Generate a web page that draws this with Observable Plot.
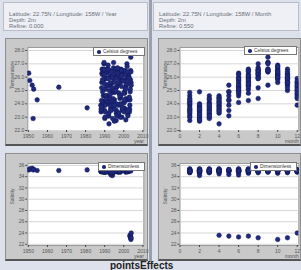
<!DOCTYPE html>
<html><head><meta charset="utf-8">
<script src="https://cdn.jsdelivr.net/npm/d3@7"></script>
<script src="https://cdn.jsdelivr.net/npm/@observablehq/plot@0.6"></script>
<style>
html,body{margin:0;padding:0;}
body{width:301px;height:270px;overflow:hidden;background:#dde1ec;position:relative;font-family:"Liberation Sans",Arial,sans-serif;}
.hdr{position:absolute;top:2px;height:29px;background:#eef0f5;border:1px solid #b9bdc9;color:#6a6e78;font-size:5.8px;line-height:6px;padding:8px 0 0 5px;box-sizing:border-box;white-space:nowrap;overflow:hidden;}
.panel{position:absolute;background:#c9c9c9;border:1px solid #8e8e8e;border-bottom:2px solid #555;}
.panel svg{display:block;overflow:visible;}
.legend{position:absolute;background:#fff;border:1px solid #777;font-size:4.8px;color:#333;height:9px;line-height:8px;box-sizing:border-box;padding-left:9px;white-space:nowrap;}
.legend::before{content:"";position:absolute;left:3px;top:2.2px;width:3.6px;height:3.6px;border-radius:50%;background:#1f2a7c;}
.divider{position:absolute;left:149px;top:0;width:2.5px;height:262px;background:#9aa0ae;}
.foot{position:absolute;left:110px;top:260.5px;font-size:10px;line-height:10px;font-weight:bold;color:#222;}
</style></head>
<body>
<div class="hdr" style="left:3px;width:145px;">Latitude: 22.75N / Longitude: 158W / Year<br>Depth: 2m<br>Refine: 0.000</div>
<div class="hdr" style="left:153px;width:146px;">Latitude: 22.75N / Longitude: 158W / Month<br>Depth: 2m<br>Refine: 0.550</div>
<div class="divider"></div>
<div class="panel" id="p1" style="left:5px;top:38px;"></div>
<div class="panel" id="p2" style="left:158px;top:38px;"></div>
<div class="panel" id="p3" style="left:5px;top:153px;"></div>
<div class="panel" id="p4" style="left:158px;top:153px;"></div>
<div class="legend" style="left:93px;top:47px;width:52px;">Celsius degrees</div>
<div class="legend" style="left:244px;top:46px;width:53px;">Celsius degrees</div>
<div class="legend" style="left:98px;top:162px;width:47px;">Dimensionless</div>
<div class="legend" style="left:250px;top:162px;width:47px;">Dimensionless</div>
<div class="foot">pointsEffects</div>
<script>
const cruiseYears = [1988,1989,1990,1991,1992,1993,1994,1995,1996,1997,1998,1999,2000,2001,2002,2003];
const tempJan = [23.9,24.2,23.5,24.6,23.1,24.0,23.7,24.85,22.75,23.3,24.4,23.0,24.1,23.6,24.3,23.4];
const tempFeb = [23.4,23.8,22.9,24.0,23.1,23.6,24.9,22.7,23.3,23.9,23.0,23.5,23.7,22.8,23.2,23.6];
const tempMar = [23.6,24.1,23.0,24.6,23.3,23.8,22.9,24.3,23.5,23.2,24.0,23.7,23.4,24.4,23.1,23.9];
const tempApr = [23.8,24.6,23.4,24.2,22.5,23.9,24.4,23.6,24.0,23.3,24.5,23.7,24.1,null,23.5,24.3];
const tempMay = [24.25,null,23.9,null,25.4,23.5,null,24.9,23.1,null,24.6,null,24.3,null,null,24.9];
const tempJun = [25.2,25.8,24.6,26.3,25.0,25.5,24.1,26.0,25.3,24.8,25.7,26.2,24.9,25.4,25.9,25.1];
const tempJul = [25.6,26.2,25.1,26.6,25.4,24.25,25.9,26.4,25.3,26.0,25.7,26.5,24.8,25.5,26.1,25.8];
const tempAug = [26.3,27.0,25.9,26.5,24.4,26.1,26.7,25.2,26.4,26.0,26.6,26.2,null,25.9,26.3,26.5];
const tempSep = [26.6,27.1,26.4,25.4,26.5,null,27.1,26.6,null,26.4,null,null,26.5,27.0,null,27.5];
const tempOct = [26.2,26.6,25.9,26.9,26.0,26.4,25.6,26.3,26.7,26.1,26.5,25.8,26.2,26.8,26.0,26.4];
const tempNov = [25.8,26.2,25.4,26.6,25.6,26.0,25.0,25.9,26.3,25.5,26.1,25.7,25.2,26.4,25.9,25.6];
const tempDec = [24.9,25.5,24.4,25.9,24.7,25.2,23.9,25.0,25.6,24.6,25.3,24.8,25.1,25.7,24.5,25.4];

const salJan = [34.9,35.1,34.8,35.2,35.0,34.7,34.9,35.3,35.1,34.8,35.0,35.2,35.4,35.1,34.9,35.0];
const salFeb = [35.0,34.8,35.2,34.9,35.1,34.6,34.2,35.0,35.3,34.9,35.1,35.4,35.2,34.8,35.0,35.1];
const salMar = [34.9,35.2,34.8,35.0,35.1,34.7,34.9,35.2,35.0,35.3,34.8,35.1,35.4,35.0,34.9,35.2];
const salApr = [35.1,34.9,35.0,35.2,34.8,34.5,35.1,34.9,35.3,35.0,35.2,35.4,35.1,null,35.0,23.6];
const salMay = [35.0,null,35.1,null,34.9,34.4,null,35.0,35.2,null,35.1,null,35.3,null,null,23.45];
const salJun = [35.1,34.9,35.0,35.2,34.8,34.3,35.0,34.9,35.1,35.3,35.0,35.2,35.4,35.1,35.0,23.3];
const salJul = [35.0,35.2,34.9,35.1,34.8,34.6,35.0,35.2,35.1,34.9,35.2,35.3,35.4,35.0,35.1,23.45];
const salAug = [35.1,34.9,35.0,35.2,34.9,34.7,35.0,35.1,35.2,35.0,35.1,35.3,null,35.2,35.0,23.15];
const salSep = [35.0,35.1,34.9,35.2,35.0,null,34.8,35.1,null,35.0,null,null,35.3,35.1,null,35.0];
const salOct = [35.1,35.0,34.9,35.2,35.0,34.6,34.9,35.1,35.2,35.0,35.1,35.3,35.2,35.0,35.1,22.85];
const salNov = [35.0,35.1,34.9,35.0,35.2,34.7,35.0,35.1,35.0,35.2,35.1,35.3,35.1,35.0,35.2,23.15];
const salDec = [35.1,34.9,35.0,35.2,34.9,34.8,35.0,35.1,35.2,35.0,35.3,35.1,35.2,35.0,35.1,24.0];

const earlyYears = [1950.2,1950.75,1952.0,1952.8,1954.6,1952.5,1965.95,1980.8];
const earlyTemps = [26.3,25.75,25.4,25.1,24.3,22.9,25.25,23.7];
const earlySal = [35.2,35.4,35.5,35.3,35.1,35.2,35.1,35.2];

const yearTicks = [1950,1960,1970,1980,1990,2000,2010];
const monthTicks = [0,2,4,6,8,10,12];
const tempTicks = [22,23,24,25,26,27,28];
const salTicks = [22,24,26,28,30,32,34,36];

const tempByMonth = [tempJan,tempFeb,tempMar,tempApr,tempMay,tempJun,tempJul,tempAug,tempSep,tempOct,tempNov,tempDec];
const salByMonth = [salJan,salFeb,salMar,salApr,salMay,salJun,salJul,salAug,salSep,salOct,salNov,salDec];

const obs = [];
tempByMonth.forEach((arr, m) => arr.forEach((t, i) => {
  obs.push({year: cruiseYears[i] + m / 12, month: m + 1, temp: t, sal: salByMonth[m][i]});
}));
const early = earlyYears.map((y, i) => ({year: y, month: null, temp: earlyTemps[i], sal: earlySal[i]}));

function chart(o) {
  const data = o.data.filter(d => d[o.x] != null && d[o.y] != null);
  return Plot.plot({
    width: o.width, height: o.height,
    marginLeft: o.ml, marginRight: o.mr, marginTop: o.mt, marginBottom: o.mb,
    style: {background: "#c9c9c9", fontFamily: "Liberation Sans, Arial, sans-serif", fontSize: "5px", color: "#444", overflow: "visible"},
    x: {domain: o.xDomain},
    y: {domain: o.yDomain},
    marks: [
      Plot.frame({fill: "white", stroke: "#9a9a9a"}),
      Plot.gridY(o.yTicks, {stroke: "#d6d6d6", strokeOpacity: 1}),
      Plot.dot(data, {x: o.x, y: o.y, r: 2.3, fill: "#1f2a7c", stroke: "#10175a", strokeWidth: 0.5, clip: true}),
      Plot.axisY(o.yTicks, {tickFormat: o.yFmt, tickSize: 2, tickPadding: 1.5, label: null, fontSize: 5, fill: "#555"}),
      Plot.axisX(o.xTicks, {tickFormat: d => String(d), tickSize: 2, tickPadding: 1.5, label: null, fontSize: 5, fill: "#555"}),
      Plot.text([o.yLabel], {text: d => d, frameAnchor: "left", dx: o.ylOff, rotate: -90, fontSize: 5, fill: "#555"}),
      Plot.text([o.xLabel], {text: d => d, frameAnchor: "bottom-right", dy: o.xlOff, textAnchor: "end", fontSize: 5, fill: "#555"})
    ]
  });
}

const all = obs.concat(early);
document.getElementById("p1").appendChild(chart({
  data: all, x: "year", y: "temp", width: 141, height: 105, ml: 21.3, mr: 3.7, mt: 8, mb: 14,
  xDomain: [1949.7, 2010.5], yDomain: [22, 28.225], xTicks: yearTicks, yTicks: tempTicks,
  yFmt: d => d.toFixed(1), yLabel: "Temperature", xLabel: "year", ylOff: -15, xlOff: 12
}));
document.getElementById("p2").appendChild(chart({
  data: obs, x: "month", y: "temp", width: 141, height: 105, ml: 20.5, mr: 1.7, mt: 8, mb: 14,
  xDomain: [0, 12.16], yDomain: [22, 28.225], xTicks: monthTicks, yTicks: tempTicks,
  yFmt: d => d.toFixed(1), yLabel: "Temperature", xLabel: "month", ylOff: -15, xlOff: 12
}));
document.getElementById("p3").appendChild(chart({
  data: all, x: "year", y: "sal", width: 141, height: 105, ml: 21.3, mr: 3.7, mt: 9, mb: 14,
  xDomain: [1949.7, 2010.5], yDomain: [21.78, 36.34], xTicks: yearTicks, yTicks: salTicks,
  yFmt: d => String(d), yLabel: "Salinity", xLabel: "year", ylOff: -15, xlOff: 12
}));
document.getElementById("p4").appendChild(chart({
  data: obs, x: "month", y: "sal", width: 141, height: 105, ml: 20.5, mr: 1.7, mt: 9, mb: 14,
  xDomain: [0, 12.16], yDomain: [21.78, 36.34], xTicks: monthTicks, yTicks: salTicks,
  yFmt: d => String(d), yLabel: "Salinity", xLabel: "month", ylOff: -15, xlOff: 12
}));
</script>
</body></html>
